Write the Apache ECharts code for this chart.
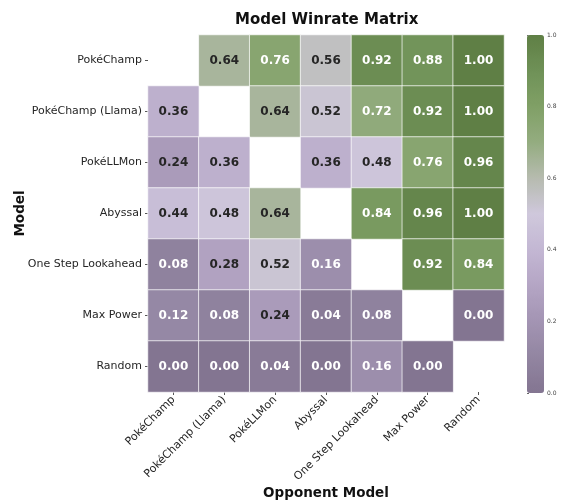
<!DOCTYPE html>
<html><head><meta charset="utf-8">
<script src="https://cdn.jsdelivr.net/npm/echarts@6/dist/echarts.min.js"></script>
<style>html,body{margin:0;padding:0;background:#fff}#c{width:564px;height:503px}</style>
</head><body><div id="c"></div>
<script>
const models = ["PokéChamp","PokéChamp (Llama)","PokéLLMon","Abyssal","One Step Lookahead","Max Power","Random"];
const rowPokeChamp = [null,0.64,0.76,0.56,0.92,0.88,1.00];
const rowPokeChampLlama = [0.36,null,0.64,0.52,0.72,0.92,1.00];
const rowPokeLLMon = [0.24,0.36,null,0.36,0.48,0.76,0.96];
const rowAbyssal = [0.44,0.48,0.64,null,0.84,0.96,1.00];
const rowOneStep = [0.08,0.28,0.52,0.16,null,0.92,0.84];
const rowMaxPower = [0.12,0.08,0.24,0.04,0.08,null,0.00];
const rowRandom = [0.00,0.00,0.04,0.00,0.16,0.00,null];
const rows = [rowPokeChamp,rowPokeChampLlama,rowPokeLLMon,rowAbyssal,rowOneStep,rowMaxPower,rowRandom];
const cbTicks = [0,0.2,0.4,0.6,0.8,1.0];

const data = [];
rows.forEach((r,yi)=>r.forEach((v,xi)=>{
  if(v===null) return;
  const dark = v>=0.2 && v<0.7;
  data.push({value:[xi,yi,v],label:{color: dark?'#262626':'#ffffff'}});
}));

const font = 'DejaVu Sans';
const chart = echarts.init(document.getElementById('c'));
chart.setOption({
  backgroundColor:'#fff',
  animation:false,
  textStyle:{fontFamily:font},
  title:{text:'Model Winrate Matrix',left:230,top:8,
    textStyle:{fontFamily:font,fontWeight:'bold',fontSize:15,color:'#111'}},
  grid:[
    {left:148,top:35,width:356,height:357,outerBoundsMode:'none',containLabel:false},
    {left:527,top:35,width:17,height:358,outerBoundsMode:'none',containLabel:false}
  ],
  xAxis:[
    {type:'category',data:models,gridIndex:0,position:'bottom',
     axisLine:{show:false},axisTick:{show:true,alignWithLabel:true,length:3,lineStyle:{color:'#555'}},
     axisLabel:{rotate:45,fontSize:11,color:'#262626',fontFamily:font,margin:6,interval:0},
     name:'Opponent Model',nameLocation:'middle',nameGap:94,nameMoveOverlap:false,
     nameTextStyle:{fontFamily:font,fontWeight:'bold',fontSize:13.5,color:'#111'}},
    {type:'value',gridIndex:1,show:false,min:0,max:1}
  ],
  yAxis:[
    {type:'category',data:models,gridIndex:0,inverse:true,
     axisLine:{show:false},axisTick:{show:true,alignWithLabel:true,length:3,lineStyle:{color:'#555'}},
     axisLabel:{fontSize:11,color:'#262626',fontFamily:font,margin:6},
     name:'Model',nameLocation:'middle',nameGap:121,nameRotate:90,nameMoveOverlap:false,
     nameTextStyle:{fontFamily:font,fontWeight:'bold',fontSize:13.5,color:'#111'}},
    {type:'value',gridIndex:1,position:'right',min:0,max:1,interval:0.2,
     axisLine:{show:false},splitLine:{show:false},
     axisTick:{show:true,length:2,lineStyle:{color:'#666'}},
     axisLabel:{fontSize:6,color:'#444',margin:3,formatter:v=>v.toFixed(1)}}
  ],
  visualMap:{
    type:'continuous',min:0,max:1,calculable:false,show:true,
    left:527,top:35,itemWidth:17,itemHeight:358,padding:0,text:['',''],
    showLabel:false,seriesIndex:0,
    inRange:{color:['#837591','#9285a1','#a394b3','#b4a5c4','#c3b7d3','#cfc8dc','#b6bbaf','#94ac80','#80a066','#6f9157','#5f7f45']}
  },
  series:[{
    type:'heatmap',xAxisIndex:0,yAxisIndex:0,data:data,
    itemStyle:{borderColor:'#ffffff',borderWidth:0.7},
    label:{show:true,fontFamily:font,fontWeight:'bold',fontSize:12,formatter:p=>p.value[2].toFixed(2)},
    emphasis:{disabled:true}
  }]
});
</script></body></html>
